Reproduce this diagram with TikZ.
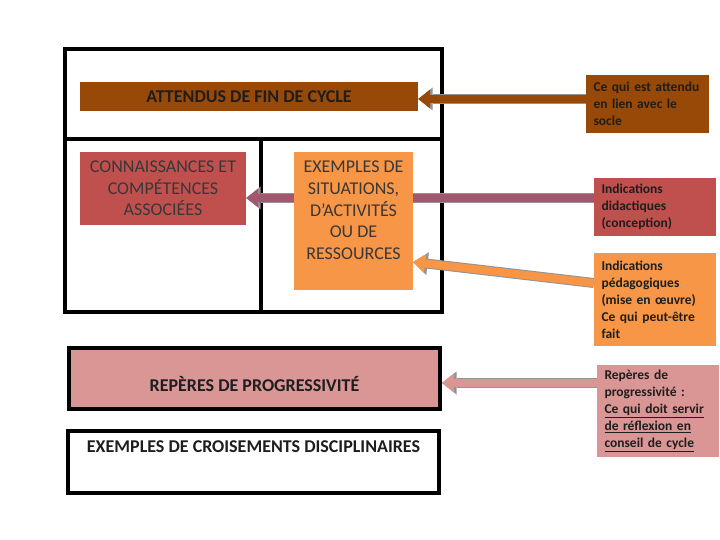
\documentclass[tikz,border=0pt]{standalone}
\usepackage{fontspec}
\setmainfont{Carlito}
\usetikzlibrary{arrows.meta}
\pgfdeclarelayer{bg}\pgfdeclarelayer{mid}\pgfsetlayers{bg,mid,main}
\definecolor{cbrown}{HTML}{984807}
\definecolor{cred}{HTML}{C0504D}
\definecolor{corange}{HTML}{F79646}
\definecolor{cpink}{HTML}{D99694}
\definecolor{cmauve}{HTML}{A4566E}
\definecolor{ctxt}{HTML}{1E1E1E}
\definecolor{cgtxt}{HTML}{383838}
\tikzset{
  frame/.style={line width=4pt, line join=miter, line cap=rect},
  bigfont/.style={font=\fontsize{18}{21.6}\selectfont},
  bigbold/.style={font=\bfseries\fontsize{18}{21.6}\selectfont},
  hdr/.style={inner sep=0pt, align=center, text=ctxt},
  side/.style={inner xsep=4pt, inner ysep=0pt, text=ctxt,
    font=\bfseries\fontsize{13.5}{17}\selectfont,
    execute at begin node={\leftskip=3.5pt\rightskip=0pt plus 1fil\parfillskip=0pt plus 1fil\hyphenpenalty=10000\parindent=0pt}},
  arr/.style={line width=8pt, draw=#1,
    -{Triangle[length=12pt,width=19pt,line width=0pt]},
    preaction={draw=gray!85, line width=10pt,
      -{Triangle[length=14.5pt,width=23pt,line width=0pt]}}}
}
\begin{document}
\begin{tikzpicture}[x=1pt,y=-1pt]
\useasboundingbox (0,0) rectangle (720,540);

% left nodes
\node[hdr, bigbold, fill=cbrown, minimum width=338, minimum height=29] (att) at (249,96.5) {ATTENDUS DE FIN DE CYCLE};
\node[hdr, bigfont, text=cgtxt, fill=cred, minimum width=166, minimum height=73] (con) at (163,188.5) {CONNAISSANCES ET\\COMPÉTENCES\\ASSOCIÉES};
\node[hdr, bigfont, text=cgtxt, fill=corange, minimum width=119, minimum height=138] (exe) at (353.5,221) {EXEMPLES DE\\SITUATIONS,\\D’ACTIVITÉS\\OU DE\\RESSOURCES\\~};
\node[hdr, bigbold, draw=black, line width=4pt, fill=cpink, minimum width=371, minimum height=61] (rep) at (254.5,378.5) {\raisebox{-5.5pt}[\height][\depth]{REPÈRES DE PROGRESSIVITÉ}};
\node[hdr, bigbold, draw=black, line width=4pt, fill=white, minimum width=371, minimum height=62] (cro) at (253.5,462) {\raisebox{-2pt}[\height][\depth]{EXEMPLES DE CROISEMENTS DISCIPLINAIRES}\\[12.4pt]~};

% right nodes
\node[side, fill=cbrown, text width=115, minimum height=58] (ce) at (647.5,104) {Ce qui est attendu\\en lien avec le\\socle};
\node[side, fill=cred, text width=114, minimum height=58] (did) at (655,207) {Indications\\didactiques\\(conception)};
\node[side, fill=corange, text width=114, minimum height=93] (ped) at (655,299.5) {Indications\\pédagogiques\\(mise en œuvre)\\Ce qui peut-être\\fait};
\node[side, fill=cpink, text width=114, minimum height=92] (rp) at (658,411) {Repères de\\progressivité :\\\underline{Ce qui doit servir}\\\underline{de réflexion en}\\\underline{conseil de cycle}};

% frame
\begin{pgfonlayer}{bg}
\fill[white] (0,0) rectangle (720,540);
\draw[frame] (65,49) rectangle (442,312);
\draw[frame] (65,139) -- (442,139);
\draw[frame] (261,139) -- (261,312);
\end{pgfonlayer}

% arrows
\begin{pgfonlayer}{mid}
\draw[arr=cbrown] (ce.west|-0,99) -- (att.east|-0,99);
\draw[arr=cmauve] (did.west|-0,198) -- (con.east|-0,198);
\draw[arr=corange] (ped.west|-0,283) -- (exe.east|-0,262);
\draw[arr=cpink] (rp.west|-0,383) -- (rep.east|-0,383);
\end{pgfonlayer}
\end{tikzpicture}
\end{document}
